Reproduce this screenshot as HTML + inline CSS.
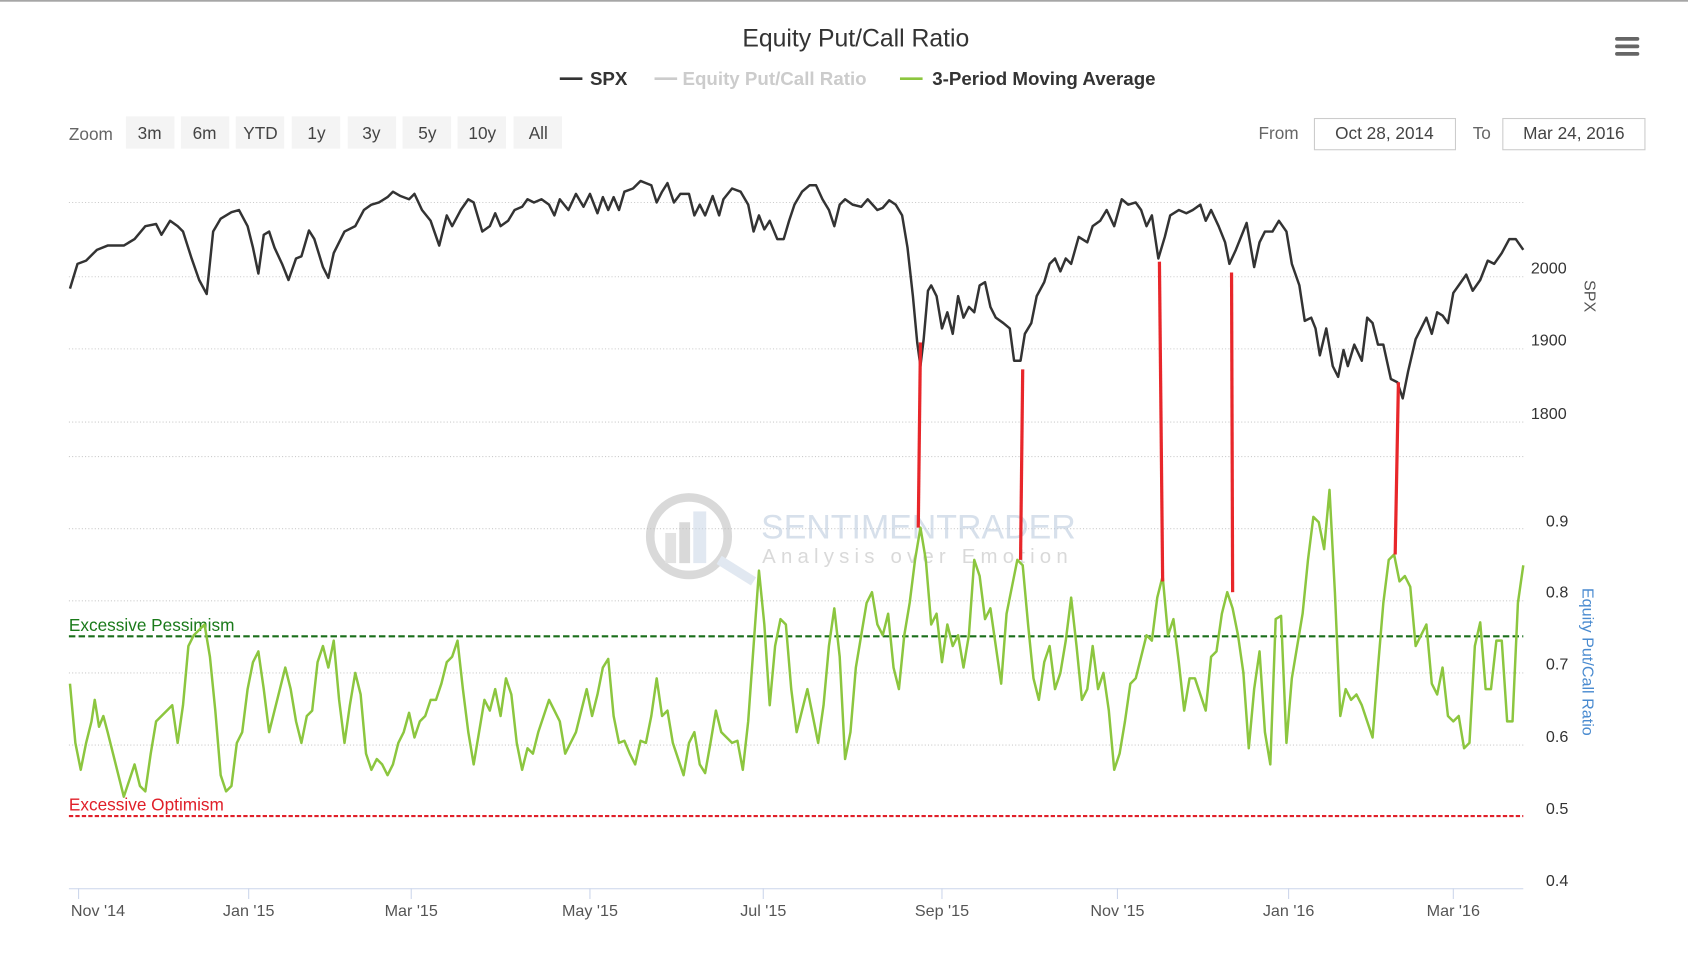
<!DOCTYPE html>
<html><head><meta charset="utf-8"><style>
html,body{margin:0;padding:0;background:#fff;}
svg{display:block;font-family:"Liberation Sans",sans-serif;}
</style></head><body>
<svg width="1688" height="954" viewBox="0 0 1568 886" xmlns="http://www.w3.org/2000/svg">
<rect width="1568" height="886" fill="#fff"/>
<line x1="0" y1="0.7" x2="1568" y2="0.7" stroke="#999" stroke-width="1.4"/>
<text x="795" y="43" font-size="23" text-anchor="middle" fill="#333">Equity Put/Call Ratio</text>
<g stroke="#666" stroke-width="3.5" stroke-linecap="round"><line x1="1502" y1="36" x2="1521" y2="36"/><line x1="1502" y1="43" x2="1521" y2="43"/><line x1="1502" y1="50" x2="1521" y2="50"/></g>
<g font-size="17.4" font-weight="bold">
<line x1="520" y1="73" x2="541" y2="73" stroke="#333" stroke-width="2.5"/><text x="548" y="79" fill="#333">SPX</text>
<line x1="608" y1="73" x2="629" y2="73" stroke="#ccc" stroke-width="2.5"/><text x="634" y="79" fill="#ccc">Equity Put/Call Ratio</text>
<line x1="836" y1="73" x2="857" y2="73" stroke="#8cc63f" stroke-width="2.5"/><text x="866" y="79" fill="#333">3-Period Moving Average</text>
</g>
<g font-size="16" fill="#444">
<text x="64" y="130" fill="#666">Zoom</text>
<rect x="117" y="108" width="45" height="30" fill="#f4f4f4"/><text x="139" y="129" text-anchor="middle">3m</text>
<rect x="168" y="108" width="45" height="30" fill="#f4f4f4"/><text x="190" y="129" text-anchor="middle">6m</text>
<rect x="219" y="108" width="45" height="30" fill="#f4f4f4"/><text x="242" y="129" text-anchor="middle">YTD</text>
<rect x="271" y="108" width="45" height="30" fill="#f4f4f4"/><text x="294" y="129" text-anchor="middle">1y</text>
<rect x="323" y="108" width="45" height="30" fill="#f4f4f4"/><text x="345" y="129" text-anchor="middle">3y</text>
<rect x="374" y="108" width="45" height="30" fill="#f4f4f4"/><text x="397" y="129" text-anchor="middle">5y</text>
<rect x="425" y="108" width="45" height="30" fill="#f4f4f4"/><text x="448" y="129" text-anchor="middle">10y</text>
<rect x="477" y="108" width="45" height="30" fill="#f4f4f4"/><text x="500" y="129" text-anchor="middle">All</text>
<text x="1169" y="129" fill="#666">From</text>
<rect x="1221" y="110" width="131" height="29" fill="#fff" stroke="#ccc"/><text x="1286" y="129" text-anchor="middle">Oct 28, 2014</text>
<text x="1368" y="129" fill="#666">To</text>
<rect x="1396" y="110" width="132" height="29" fill="#fff" stroke="#ccc"/><text x="1462" y="129" text-anchor="middle">Mar 24, 2016</text>
</g>
<g stroke="#ccc" stroke-width="1" stroke-dasharray="1,2">
<line x1="64" y1="188" x2="1415" y2="188"/><line x1="64" y1="257" x2="1415" y2="257"/><line x1="64" y1="324" x2="1415" y2="324"/><line x1="64" y1="392" x2="1415" y2="392"/>
<line x1="64" y1="424" x2="1415" y2="424"/><line x1="64" y1="491" x2="1415" y2="491"/><line x1="64" y1="558" x2="1415" y2="558"/><line x1="64" y1="625" x2="1415" y2="625"/><line x1="64" y1="692" x2="1415" y2="692"/>
</g>
<g opacity="0.55">
<circle cx="640" cy="498" r="36" fill="none" stroke="#bbb" stroke-width="8"/>
<rect x="618" y="495" width="10" height="28" fill="#ccc"/><rect x="631" y="485" width="10" height="38" fill="#bbb"/><rect x="644" y="475" width="12" height="48" fill="#c9d6e6"/>
<line x1="668" y1="520" x2="700" y2="540" stroke="#c9d6e6" stroke-width="9"/>
<text x="707" y="500" font-size="31.5" fill="#b7c8dc">SENTIMENTRADER</text>
<text x="708" y="523" font-size="19" letter-spacing="4.8" fill="#bbb">Analysis over Emotion</text>
</g>
<line x1="64" y1="591" x2="1415" y2="591" stroke="#1a6e1a" stroke-width="2" stroke-dasharray="6,3"/>
<text x="64" y="586" font-size="16" fill="#1a7a1a">Excessive Pessimism</text>
<line x1="64" y1="758" x2="1415" y2="758" stroke="#e0202a" stroke-width="2" stroke-dasharray="4,2"/>
<text x="64" y="753" font-size="16" fill="#e0202a">Excessive Optimism</text>
<line x1="64" y1="825.5" x2="1415" y2="825.5" stroke="#ccd6eb"/>
<g stroke="#ccd6eb"><line x1="73" y1="825" x2="73" y2="835"/><line x1="231" y1="825" x2="231" y2="835"/><line x1="382" y1="825" x2="382" y2="835"/><line x1="548" y1="825" x2="548" y2="835"/><line x1="709" y1="825" x2="709" y2="835"/><line x1="875" y1="825" x2="875" y2="835"/><line x1="1038" y1="825" x2="1038" y2="835"/><line x1="1197" y1="825" x2="1197" y2="835"/><line x1="1350" y1="825" x2="1350" y2="835"/></g>
<g font-size="15" fill="#555" text-anchor="middle">
<text x="91" y="851">Nov '14</text><text x="231" y="851">Jan '15</text><text x="382" y="851">Mar '15</text><text x="548" y="851">May '15</text><text x="709" y="851">Jul '15</text><text x="875" y="851">Sep '15</text><text x="1038" y="851">Nov '15</text><text x="1197" y="851">Jan '16</text><text x="1350" y="851">Mar '16</text>
</g>
<g font-size="15" fill="#333">
<text x="1422" y="254">2000</text><text x="1422" y="321">1900</text><text x="1422" y="389">1800</text>
<text x="1436" y="489">0.9</text><text x="1436" y="555">0.8</text><text x="1436" y="622">0.7</text><text x="1436" y="689">0.6</text><text x="1436" y="756">0.5</text><text x="1436" y="823">0.4</text>
</g>
<text font-size="15" fill="#555" transform="translate(1472,260) rotate(90)">SPX</text>
<text font-size="15" fill="#4a8bd0" transform="translate(1470,546) rotate(90)">Equity Put/Call Ratio</text>
<polyline fill="none" stroke="#333" stroke-width="2.3" stroke-linejoin="round" points="65,268 72,245 80,242 90,232 100,228 115,228 125,222 135,210 145,208 150,218 158,205 165,210 170,215 178,240 185,260 192,273 198,215 205,203 215,197 222,195 230,210 235,230 240,254 245,218 250,215 255,230 262,245 268,260 275,240 280,238 287,214 292,222 300,248 305,258 310,235 320,215 330,210 338,195 345,190 352,188 360,183 365,178 372,182 380,185 385,180 392,195 400,205 408,228 415,200 420,210 428,195 435,185 440,188 448,215 455,210 460,198 465,210 472,205 478,195 485,192 490,185 496,188 503,185 510,190 515,200 520,185 528,195 535,180 542,192 548,180 555,198 560,183 565,195 570,183 575,195 580,178 588,175 595,168 600,170 605,172 610,188 615,178 620,170 626,188 632,180 640,180 645,200 650,190 655,200 662,182 668,200 672,185 680,175 688,178 695,190 700,215 705,200 710,213 715,205 722,222 728,222 733,205 738,190 745,178 752,172 758,172 764,185 770,195 775,210 780,190 785,185 792,190 800,192 806,185 815,195 820,193 826,186 832,190 838,200 843,230 848,275 852,318 855,340 858,315 862,270 865,265 870,275 875,305 880,290 885,310 890,275 895,295 900,285 905,290 910,265 915,262 920,285 925,295 932,300 938,305 942,335 948,335 952,310 958,300 963,275 970,262 975,245 980,240 985,252 990,240 995,245 1002,220 1010,225 1015,210 1022,205 1028,195 1035,210 1042,185 1048,190 1055,188 1060,195 1065,210 1070,200 1076,240 1082,220 1087,200 1095,195 1102,198 1108,195 1115,190 1120,205 1125,195 1132,210 1138,225 1142,245 1148,232 1152,222 1158,207 1165,248 1170,225 1175,215 1182,215 1188,205 1195,215 1200,245 1207,265 1212,298 1218,295 1222,305 1226,330 1232,305 1238,340 1243,350 1248,325 1252,340 1258,320 1265,335 1270,295 1275,300 1280,320 1285,320 1292,352 1298,355 1303,370 1308,345 1315,315 1320,305 1325,295 1330,310 1335,290 1340,293 1345,300 1350,272 1355,265 1362,255 1368,270 1375,260 1382,242 1388,245 1395,235 1402,222 1408,222 1415,232"/>
<polyline fill="none" stroke="#8cc63f" stroke-width="2.3" stroke-linejoin="round" points="65,635 70,690 75,715 80,690 85,670 88,650 92,675 96,665 100,680 105,700 110,720 115,740 120,725 125,710 130,730 135,735 140,700 145,670 150,665 155,660 160,655 165,690 170,655 175,600 180,590 185,585 190,580 195,610 200,660 205,720 210,735 215,730 220,690 225,680 230,640 235,615 240,605 245,640 250,680 255,660 260,640 265,620 270,640 275,670 280,690 285,665 290,660 295,615 300,600 305,620 310,595 315,650 320,690 325,655 330,625 335,645 340,700 345,715 350,705 355,710 360,720 365,710 370,690 375,680 380,662 385,685 390,670 395,665 400,650 405,650 410,635 415,615 420,610 425,595 430,640 435,680 440,710 445,680 450,650 455,660 460,640 465,665 470,630 475,645 480,690 485,715 490,695 495,700 500,680 505,665 510,650 515,660 520,670 525,700 530,690 535,680 540,660 545,640 550,665 555,645 560,620 565,612 570,665 575,690 580,688 585,700 590,710 595,688 600,690 605,665 610,630 615,665 620,660 625,690 630,705 635,720 640,690 645,680 650,710 655,718 660,690 665,660 670,680 675,685 680,690 685,688 690,715 695,670 700,600 705,530 710,580 715,655 720,600 725,575 730,580 735,640 740,680 745,660 750,640 755,665 760,690 765,655 770,600 775,565 780,610 785,705 790,680 795,620 800,590 805,560 810,550 815,580 820,590 825,570 830,620 835,640 840,590 845,560 850,520 855,490 860,520 865,580 870,570 875,615 880,580 885,600 890,590 895,620 900,590 905,520 910,535 915,575 920,565 925,600 930,635 935,570 940,545 945,520 950,525 955,580 960,630 965,650 970,615 975,600 980,640 985,625 990,595 995,555 1000,600 1005,650 1010,640 1015,600 1020,640 1025,625 1030,660 1035,715 1040,700 1045,670 1050,635 1055,630 1060,610 1065,590 1070,595 1075,555 1080,535 1085,590 1090,575 1095,615 1100,660 1105,630 1110,630 1115,645 1120,660 1125,610 1130,605 1135,570 1140,550 1145,565 1150,590 1155,625 1160,695 1165,640 1170,605 1175,680 1180,710 1185,575 1190,572 1195,690 1200,630 1205,600 1210,570 1215,520 1220,480 1225,485 1230,510 1235,455 1240,550 1245,665 1250,640 1255,650 1260,645 1265,655 1270,670 1275,685 1280,620 1285,560 1290,520 1295,515 1300,540 1305,535 1310,545 1315,600 1320,590 1325,580 1330,635 1335,645 1340,620 1345,665 1350,670 1355,665 1360,695 1365,690 1370,600 1375,578 1380,640 1385,640 1390,595 1395,595 1400,670 1405,670 1410,560 1415,525"/>
<g stroke="#e8262a" stroke-width="3">
<line x1="855" y1="318" x2="853" y2="490"/><line x1="950" y1="343" x2="948" y2="520"/><line x1="1077" y1="243" x2="1080" y2="540"/><line x1="1144" y1="253" x2="1145" y2="550"/><line x1="1299" y1="355" x2="1296" y2="515"/>
</g>
</svg>
</body></html>
